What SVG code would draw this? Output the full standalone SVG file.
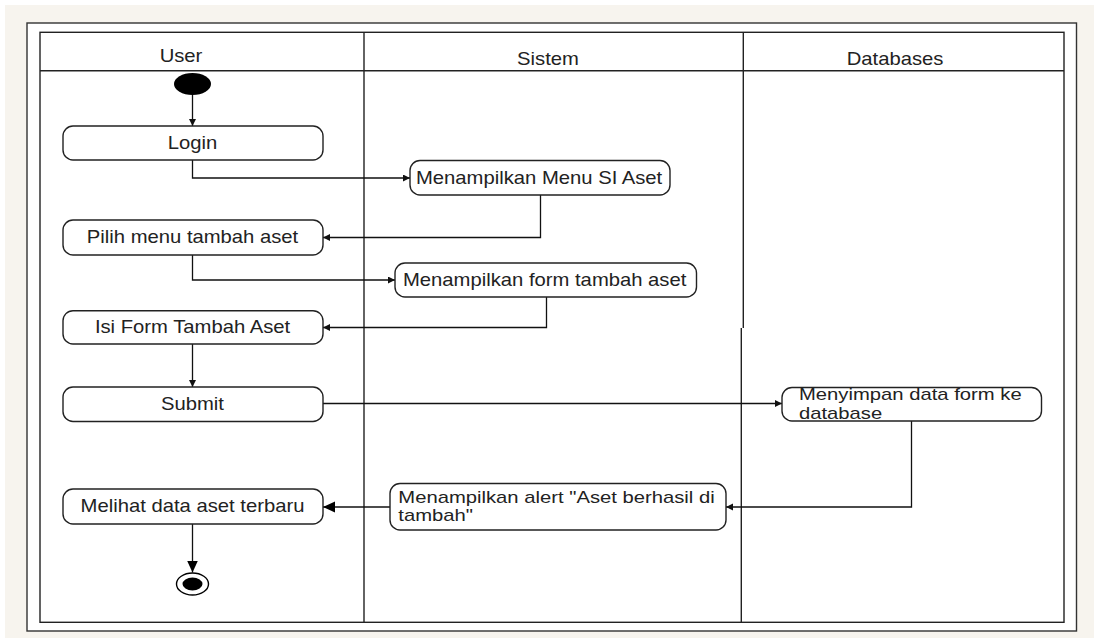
<svg xmlns="http://www.w3.org/2000/svg" width="1094" height="638" viewBox="0 0 1094 638">
<style>
.t{font-family:"Liberation Sans",Arial,sans-serif;font-size:17.5px;fill:#222}
.t2{font-family:"Liberation Sans",Arial,sans-serif;font-size:16px;fill:#222}
.box{fill:#fff;stroke:#222;stroke-width:1.4}
.ln{fill:none;stroke:#222;stroke-width:1.4}
.c{fill:none;stroke:#111;stroke-width:1.3}
</style>
<defs>
<marker id="sa" markerUnits="userSpaceOnUse" markerWidth="8" markerHeight="8" refX="7" refY="3.5" orient="auto">
<path d="M0,0 L7,3.5 L0,7 z" fill="#111"/>
</marker>
<marker id="ba" markerUnits="userSpaceOnUse" markerWidth="13" markerHeight="12" refX="12" refY="5.5" orient="auto">
<path d="M0,0 L12,5.5 L0,11 z" fill="#000"/>
</marker>
</defs>
<rect x="0" y="0" width="1094" height="638" fill="#ffffff"/>
<rect x="5" y="5" width="1089" height="633" fill="#f7f4ee"/>
<g id="frame">
<rect x="27" y="23" width="1049.5" height="608" fill="#fff" stroke="#333" stroke-width="1.4"/>
<rect x="40" y="32.3" width="1024" height="590" fill="#fff" stroke="#222" stroke-width="1.4"/>
<line class="ln" x1="40" y1="70.7" x2="1064" y2="70.7"/>
<line class="ln" x1="364" y1="32.3" x2="364" y2="622.3"/>
<line class="ln" x1="743.3" y1="32.3" x2="743.3" y2="328"/>
<line class="ln" x1="741.3" y1="328" x2="741.3" y2="622.3"/>
<text class="t" transform="translate(181,62) scale(1.157,1)" text-anchor="middle">User</text>
<text class="t" transform="translate(548,65) scale(1.157,1)" text-anchor="middle">Sistem</text>
<text class="t" transform="translate(895,65) scale(1.157,1)" text-anchor="middle">Databases</text>
</g>
<g id="connectors">
<path class="c" d="M192.5,95 V126" marker-end="url(#sa)"/>
<path class="c" d="M192.5,160 V178 H410" marker-end="url(#sa)"/>
<path class="c" d="M540.5,195 V237.5 H323" marker-end="url(#sa)"/>
<path class="c" d="M192.5,255 V280 H395" marker-end="url(#sa)"/>
<path class="c" d="M546.5,297 V327.5 H323" marker-end="url(#sa)"/>
<path class="c" d="M192.5,344 V387" marker-end="url(#sa)"/>
<path class="c" d="M323,403.5 H782" marker-end="url(#sa)"/>
<path class="c" d="M911.5,421 V507 H726" marker-end="url(#sa)"/>
<path class="c" d="M390,507 H323" marker-end="url(#ba)"/>
<path class="c" d="M192.5,524 V572.5" marker-end="url(#ba)"/>
</g>
<g id="start">
<ellipse cx="192.5" cy="84" rx="18.5" ry="11" fill="#000"/>
</g>
<g id="login">
<rect class="box" x="63" y="126" width="260" height="34" rx="10"/>
<text class="t" transform="translate(192.5,149) scale(1.157,1)" text-anchor="middle">Login</text>
</g>
<g id="menu-si">
<rect class="box" x="410" y="160.5" width="260" height="34.5" rx="10"/>
<text class="t" transform="translate(416,184) scale(1.157,1)">Menampilkan Menu SI Aset</text>
</g>
<g id="pilih">
<rect class="box" x="63" y="220" width="260" height="35" rx="10"/>
<text class="t" transform="translate(192.5,243) scale(1.157,1)" text-anchor="middle">Pilih menu tambah aset</text>
</g>
<g id="form">
<rect class="box" x="395" y="263" width="301.5" height="34" rx="10"/>
<text class="t" transform="translate(403,286) scale(1.157,1)">Menampilkan form tambah aset</text>
</g>
<g id="isi">
<rect class="box" x="63" y="310.7" width="260" height="33.3" rx="10"/>
<text class="t" transform="translate(192.5,333) scale(1.157,1)" text-anchor="middle">Isi Form Tambah Aset</text>
</g>
<g id="submit">
<rect class="box" x="63" y="387" width="260" height="34.5" rx="10"/>
<text class="t" transform="translate(192.5,410) scale(1.157,1)" text-anchor="middle">Submit</text>
</g>
<g id="menyimpan">
<rect class="box" x="782" y="387.5" width="259.5" height="33.5" rx="10"/>
<text class="t2" transform="translate(799,400) scale(1.265,1)">Menyimpan data form ke</text>
<text class="t2" transform="translate(799,418.5) scale(1.265,1)">database</text>
</g>
<g id="alert">
<rect class="box" x="390" y="483.5" width="336" height="46.5" rx="10"/>
<text class="t2" transform="translate(398.3,502.5) scale(1.265,1)">Menampilkan alert "Aset berhasil di</text>
<text class="t2" transform="translate(398.3,521) scale(1.265,1)">tambah"</text>
</g>
<g id="melihat">
<rect class="box" x="63" y="489" width="260" height="35" rx="10"/>
<text class="t" transform="translate(192.5,512) scale(1.157,1)" text-anchor="middle">Melihat data aset terbaru</text>
</g>
<g id="end">
<ellipse cx="192.5" cy="584" rx="16" ry="11" fill="#fff" stroke="#000" stroke-width="1.4"/>
<ellipse cx="192.5" cy="584" rx="10" ry="6.5" fill="#000"/>
</g>
</svg>
